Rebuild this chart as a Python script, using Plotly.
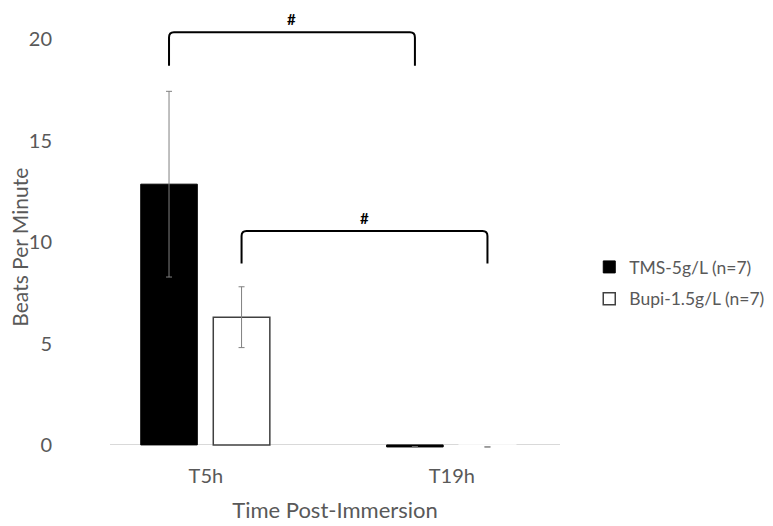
import plotly.graph_objects as go

# data
timepoints = ['T5h', 'T19h']
tms_bpm = [12.86, -0.1]
tms_err = [4.58, None]
bupi_bpm = [6.3, -0.1]
bupi_err = [1.5, None]

# significance brackets: (series, top y, leg bottom y, label)
brackets = [
    ('tms', 20.35, 18.7, '#'),
    ('bupi', 10.55, 8.95, '#'),
]

x_pos = list(range(len(timepoints)))
bar_w = 0.23
offsets = {'tms': -0.265, 'bupi': 0.03}

FONT = 'Lato, Open Sans, sans-serif'
GREY = '#595959'

fig = go.Figure()

fig.add_trace(go.Bar(
    x=x_pos,
    y=tms_bpm,
    name='TMS-5g/L (n=7)',
    legendgroup='tms',
    width=bar_w,
    offset=offsets['tms'],
    marker=dict(color='black', line=dict(color='black', width=1)),
    error_y=dict(type='data', array=tms_err, color='#808080', thickness=1, width=3),
))

fig.add_trace(go.Bar(
    x=x_pos,
    y=bupi_bpm,
    name='Bupi-1.5g/L (n=7)',
    legendgroup='bupi',
    width=bar_w,
    offset=offsets['bupi'],
    marker=dict(color='white', line=dict(color=['#404040', 'white'], width=1.5)),
    error_y=dict(type='data', array=bupi_err, color='#808080', thickness=1, width=3),
))

# brackets joining the bar centres of a series across time points
for series, yt, yb, label in brackets:
    x0 = x_pos[0] + offsets[series] + bar_w / 2
    x1 = x_pos[1] + offsets[series] + bar_w / 2
    rx, ry = 0.02, 0.25
    path = (f"M {x0},{yb} L {x0},{yt - ry} Q {x0},{yt} {x0 + rx},{yt} "
            f"L {x1 - rx},{yt} Q {x1},{yt} {x1},{yt - ry} L {x1},{yb}")
    fig.add_shape(type='path', path=path, xref='x', yref='y',
                  line=dict(color='black', width=2))
    fig.add_annotation(x=(x0 + x1) / 2, y=yt + 0.12, yanchor='bottom',
                       text=f"<b>{label}</b>", showarrow=False,
                       font=dict(family=FONT, size=15, color='black'))

# y title placed as a rotated annotation so it sits where the original does
fig.add_annotation(x=-0.2, y=0.46, xref='paper', yref='paper',
                   text='Beats Per Minute', textangle=-90, showarrow=False,
                   xanchor='center', yanchor='middle',
                   font=dict(family=FONT, size=21, color=GREY))

# page body adds an 8px offset, so the figure is sized 8px smaller
fig.update_layout(
    width=765,
    height=518,
    margin=dict(l=102, r=213, t=1, b=75),
    plot_bgcolor='white',
    paper_bgcolor='white',
    barmode='overlay',
    font=dict(family=FONT, color=GREY, size=20),
    xaxis=dict(
        range=[-0.39, 1.44],
        tickvals=x_pos,
        ticktext=timepoints,
        showgrid=False,
        zeroline=False,
        showline=False,
        ticks='',
        ticklabelstandoff=11,
        automargin=False,
        title=dict(text='Time Post-Immersion', standoff=16,
                   font=dict(family=FONT, size=22, color=GREY)),
    ),
    yaxis=dict(
        range=[-0.3, 21.5],
        tickvals=[0, 5, 10, 15, 20],
        showgrid=False,
        zeroline=True,
        zerolinecolor='#d9d9d9',
        zerolinewidth=1,
        showline=False,
        ticks='',
        ticklabelstandoff=57,
        automargin=False,
    ),
    legend=dict(
        x=1.065,
        y=0.38,
        xanchor='left',
        yanchor='middle',
        traceorder='grouped',
        tracegroupgap=6,
        font=dict(family=FONT, size=17.5, color=GREY),
    ),
)

fig.write_html("out.html")
